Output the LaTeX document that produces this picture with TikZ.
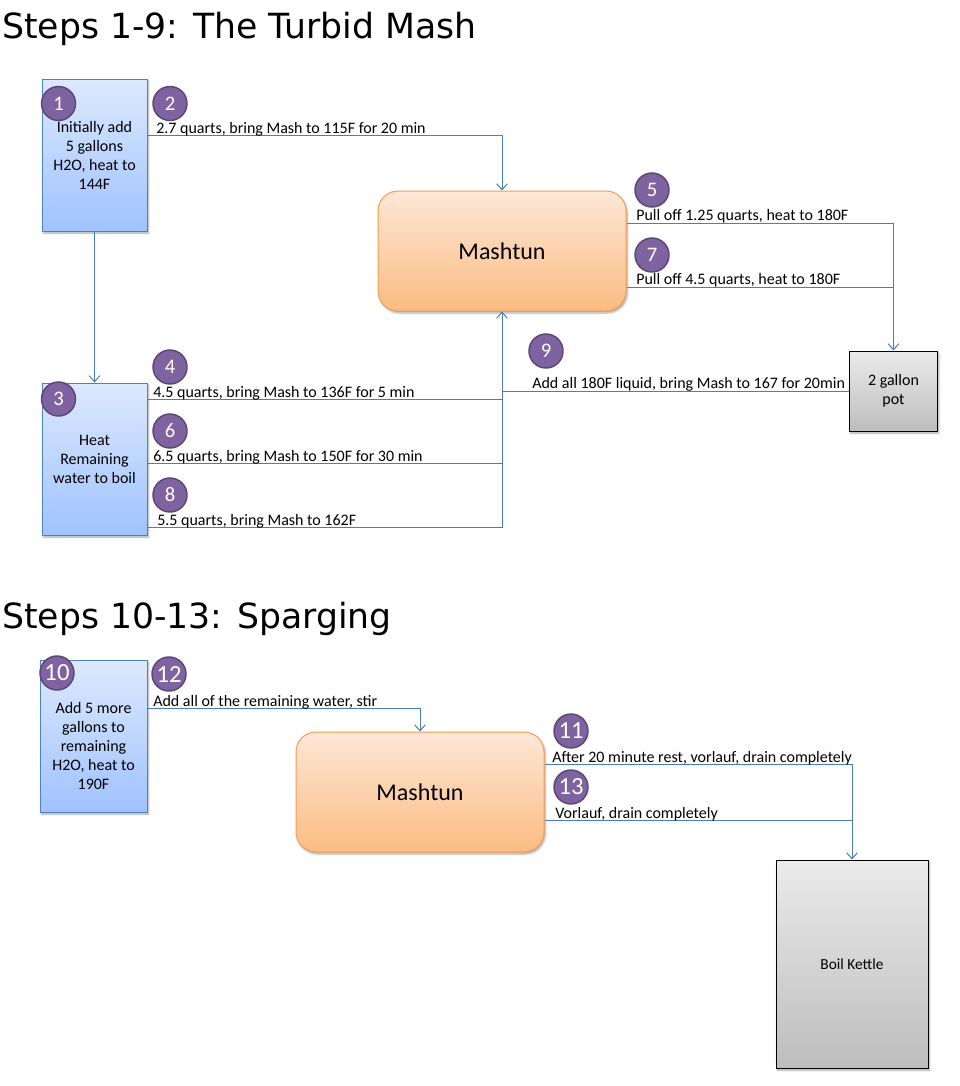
\documentclass[tikz,border=0pt]{standalone}
\usepackage{fontspec}
\setmainfont{Carlito}
\newfontfamily\headfont{DejaVu Sans}
\usetikzlibrary{arrows.meta,shadows.blur}
\definecolor{flowblue}{HTML}{4A7EBB}
\definecolor{boxedge}{HTML}{4F81BD}
\definecolor{bluetop}{HTML}{DDE9FD}
\definecolor{bluebot}{HTML}{9FC2FF}
\definecolor{tunedge}{HTML}{F79D52}
\definecolor{tuntop}{HTML}{FDE7D7}
\definecolor{tunbot}{HTML}{FBBC82}
\definecolor{grytop}{HTML}{EBEBEB}
\definecolor{grybot}{HTML}{BDBDBD}
\definecolor{numfill}{HTML}{7F63A1}
\definecolor{numedge}{HTML}{5A4778}

\begin{document}
\begin{tikzpicture}[x=0.75pt,y=-0.75pt,
		soft/.style={blur shadow={shadow xshift=1pt,shadow yshift=-1.5pt,shadow blur radius=1.5pt,shadow opacity=35}},
		water/.style={soft,draw=boxedge,line width=0.75pt,top color=bluetop,bottom color=bluebot,minimum width=78.75pt,minimum height=114pt,align=center,inner sep=2pt,font=\fontsize{12}{14.25}\selectfont},
		tun/.style={soft,draw=tunedge,line width=0.75pt,top color=tuntop,bottom color=tunbot,rounded corners=15pt,minimum width=186pt,minimum height=90pt,font=\fontsize{18}{20}\selectfont},
		vessel/.style={soft,draw=black,line width=0.75pt,top color=grytop,bottom color=grybot,align=center,font=\fontsize{12}{14.25}\selectfont},
		stepnum/.style={circle,draw=numedge,line width=1.1pt,fill=numfill,text=white,minimum size=25.5pt,inner sep=0pt,font=\fontsize{15.5}{15.5}\selectfont},
		bignum/.style={stepnum,font=\fontsize{18.5}{18.5}\selectfont},
		note/.style={anchor=base west,inner sep=0pt,font=\fontsize{12}{14}\selectfont},
		title/.style={anchor=base west,inner sep=0pt,font=\headfont\fontsize{26}{30}\selectfont},
		flow/.style={draw=flowblue,line width=0.75pt},
		feed/.style={flow,-{Straight Barb[length=4.5pt,width=8pt]}}]
		\useasboundingbox (0,0) rectangle (960,1086);
		\node [title](head1) at (2,38) {Steps 1-9: The Turbid Mash};
		\node [water](box1) at (94.5,155) {Initially add\\5 gallons\\H2O, heat to\\144F};
		\node [water](box3) at (94.5,459) {Heat\\Remaining\\water to boil};
		\node [tun](mash1) at (502,251) {Mashtun};
		\node [vessel,minimum width=66pt,minimum height=60pt](pot) at (893.5,391) {2 gallon\\pot};
		\coordinate (j2) at (502,135);
		\coordinate (j4) at (502,399);
		\coordinate (j6) at (502,463);
		\coordinate (j8) at (502,527);
		\coordinate (j5) at (893.5,223);
		\coordinate (j7) at (893.5,287);
		\coordinate (j9) at (502,391);
		\draw [feed] (box1.east |- j2) -- (j2) -- (mash1.north);
		\draw [feed] (box1.south) -- (box3.north);
		\draw [feed] (mash1.east |- j5) -- (j5) -- (pot.north);
		\draw [flow] (mash1.east |- j7) -- (j7);
		\draw [flow] (pot.west) -- (j9);
		\draw [flow] (box3.east |- j4) -- (j4);
		\draw [flow] (box3.east |- j6) -- (j6);
		\draw [feed] (box3.east |- j8) -- (j8) -- (mash1.south);
		\node [note](lab2) at (156,133) {2.7 quarts, bring Mash to 115F for 20 min};
		\node [note](lab4) at (153,397) {4.5 quarts, bring Mash to 136F for 5 min};
		\node [note](lab6) at (153,461) {6.5 quarts, bring Mash to 150F for 30 min};
		\node [note](lab8) at (157,525) {5.5 quarts, bring Mash to 162F};
		\node [note](lab5) at (636,220) {Pull off 1.25 quarts, heat to 180F};
		\node [note](lab7) at (636,284) {Pull off 4.5 quarts, heat to 180F};
		\node [note](lab9) at (532,388) {Add all 180F liquid, bring Mash to 167 for 20min};
		\node [stepnum](n1) at (58.5,103.5) {1};
		\node [stepnum](n2) at (170,103.5) {2};
		\node [stepnum](n3) at (58.5,399) {3};
		\node [stepnum](n4) at (170,367) {4};
		\node [stepnum](n5) at (652,190) {5};
		\node [stepnum](n6) at (170,431) {6};
		\node [stepnum](n7) at (652,255) {7};
		\node [stepnum](n8) at (170,495) {8};
		\node [stepnum](n9) at (546,351) {9};

		\node [title](head2) at (2,628) {Steps 10-13: Sparging};
		\node [water,minimum width=80.25pt](box10) at (93.5,736) {\rule{0pt}{23.5pt}Add 5 more\\gallons to\\remaining\\H2O, heat to\\190F};
		\node [tun](mash2) at (420,792) {Mashtun};
		\node [vessel,minimum width=114pt,minimum height=156pt,font=\fontsize{11.5}{14}\selectfont](kettle) at (852,964) {Boil Kettle};
		\coordinate (j12) at (420,708);
		\coordinate (j11) at (852,764);
		\coordinate (j13) at (852,820);
		\draw [feed] (box10.east |- j12) -- (j12) -- (mash2.north);
		\draw [feed] (mash2.east |- j11) -- (j11) -- (kettle.north);
		\draw [flow] (mash2.east |- j13) -- (j13);
		\node [note](lab12) at (153,706) {Add all of the remaining water, stir};
		\node [note](lab11) at (552,762) {After 20 minute rest, vorlauf, drain completely};
		\node [note](lab13) at (555,818) {Vorlauf, drain completely};
		\node [bignum](n10) at (57,673) {10};
		\node [bignum](n11) at (571,731) {11};
		\node [bignum](n12) at (169,674) {12};
		\node [bignum](n13) at (571,787) {13};
\end{tikzpicture}
\end{document}
